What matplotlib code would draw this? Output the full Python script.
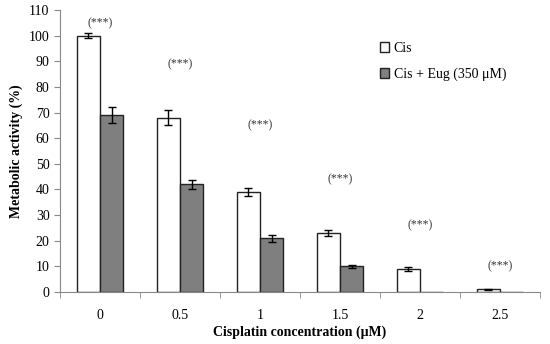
import matplotlib
matplotlib.use("Agg")
import matplotlib.pyplot as plt
import numpy as np

plt.rcParams['font.family'] = ['Liberation Serif', 'DejaVu Serif']

# data
conc = ["0", "0.5", "1", "1.5", "2", "2.5"]
cis = [100, 68, 39, 23, 9, 1]
cis_err = [1, 3, 1.5, 1.2, 0.6, 0.3]
eug = [69, 42, 21, 10, 0, 0]
eug_err = [3, 1.8, 1.3, 0.6, 0, 0]
star_y = [105, 89, 65, 44, 26, 10]

x = np.arange(len(conc))
w = 0.29

fig = plt.figure(figsize=(5.5, 3.44), dpi=100)
ax = fig.add_axes([0.109, 0.151, 0.873, 0.82])

ax.bar(x - w/2, cis, w, color="white", edgecolor="#222222", linewidth=1,
       yerr=cis_err, capsize=3, error_kw=dict(ecolor="black", elinewidth=1, capthick=1),
       label="Cis")
ax.bar(x + w/2, eug, w, color="#7f7f7f", edgecolor="#222222", linewidth=1,
       yerr=[e if e > 0 else np.nan for e in eug_err], capsize=3,
       error_kw=dict(ecolor="black", elinewidth=1, capthick=1),
       label="Cis + Eug (350 μM)")

for i, yy in enumerate(star_y):
    ax.text(x[i], yy, "(***)", ha="center", va="center", fontsize=8.5, color="#333333")

ax.set_xlim(-0.5, len(conc) - 0.5)
ax.set_ylim(0, 110)
ax.set_yticks(range(0, 111, 10))
ax.set_xticks(x)
ax.set_xticklabels(conc, fontsize=10)
ax.set_xticks(np.arange(-0.5, len(conc), 1), minor=True)
ax.tick_params(axis="x", which="major", length=0, pad=12)
ax.tick_params(axis="x", which="minor", length=4, color="#888888", direction="out")
ax.tick_params(axis="y", labelsize=10, length=4, color="#888888")

for s in ["top", "right"]:
    ax.spines[s].set_visible(False)
for s in ["left", "bottom"]:
    ax.spines[s].set_color("#888888")

ax.set_ylabel("Metabolic activity (%)", fontsize=10, fontweight="bold")
ax.set_xlabel("Cisplatin concentration (μM)", fontsize=10, fontweight="bold", labelpad=3)

ax.legend(loc="upper left", bbox_to_anchor=(0.64, 0.93), frameon=False,
          fontsize=10, handlelength=0.7, handleheight=0.7, labelspacing=0.9,
          handletextpad=0.3)

fig.savefig("out.png", dpi=100)
